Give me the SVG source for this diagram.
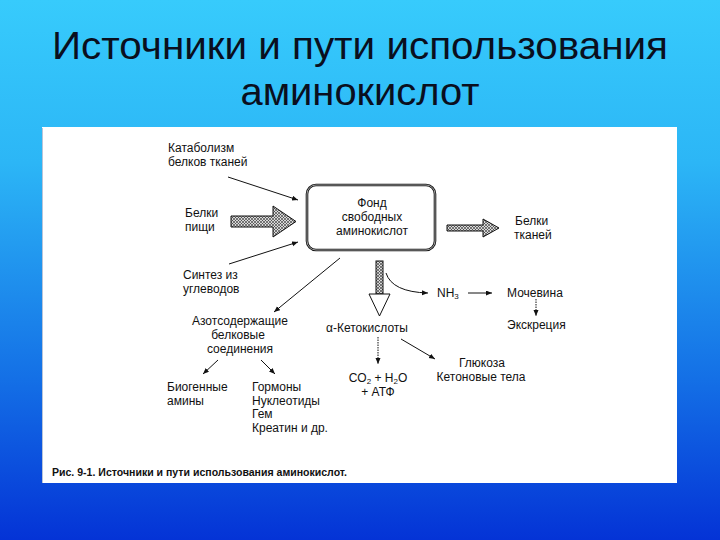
<svg xmlns="http://www.w3.org/2000/svg" width="720" height="540" viewBox="0 0 720 540">
<defs>
<linearGradient id="bg" x1="0" y1="0" x2="0" y2="1">
<stop offset="0" stop-color="#37cbfc"/>
<stop offset="0.3" stop-color="#2cb6f6"/>
<stop offset="0.7" stop-color="#1470e6"/>
<stop offset="1" stop-color="#0433d6"/>
</linearGradient>
<pattern id="hatch" width="3" height="3" patternUnits="userSpaceOnUse">
<rect width="3" height="3" fill="#d8d8d8"/>
<path d="M0,0 L3,3 M3,0 L0,3" stroke="#333" stroke-width="0.6"/>
</pattern>
<marker id="ah" markerUnits="userSpaceOnUse" markerWidth="7" markerHeight="6" refX="6" refY="2.5" orient="auto">
<path d="M0,0 L6,2.5 L0,5 Z" fill="#111"/>
</marker>
<style>
.t{font-family:"Liberation Sans",Arial,sans-serif;font-size:12px;fill:#111}
.c{text-anchor:middle}
.title{font-family:"Liberation Sans",Arial,sans-serif;font-size:38px;fill:#0a0f1e;text-anchor:middle}
.ln{stroke:#111;stroke-width:1;fill:none}
.dot{stroke:#111;stroke-width:1;fill:none;stroke-dasharray:1.5 1}
.hat{fill:url(#hatch);stroke:#111;stroke-width:1}
</style>
</defs>
<rect width="720" height="540" fill="url(#bg)"/>
<text class="title" x="360" y="59" textLength="616" lengthAdjust="spacingAndGlyphs">Источники и пути использования</text>
<text class="title" x="360" y="105" textLength="239" lengthAdjust="spacingAndGlyphs">аминокислот</text>
<rect x="42" y="127" width="635" height="356" fill="#fff"/>
<line x1="42.5" y1="128" x2="42.5" y2="483" stroke="#b8c4d8" stroke-width="1"/>

<g id="connectors">
<line class="ln" x1="228" y1="177" x2="298" y2="200" marker-end="url(#ah)"/>
<line class="ln" x1="229" y1="264" x2="298" y2="242" marker-end="url(#ah)"/>
<path class="hat" d="M231,216 L273,216 L273,206 L296,221.5 L273,237 L273,227 L231,227 Z"/>
<path class="hat" d="M447,225 L483,225 L483,219 L499,228 L483,237 L483,231 L447,231 Z"/>
<line class="ln" x1="340" y1="258" x2="274" y2="312" marker-end="url(#ah)"/>
<rect class="hat" x="376" y="261" width="7" height="33" stroke-width="0.8"/>
<path d="M369,294 L390,294 L379.5,316 Z" fill="#fff" stroke="#111" stroke-width="1"/>
<path class="ln" d="M386,273 Q392,292 428,293" marker-end="url(#ah)"/>
<line class="ln" x1="468" y1="293" x2="492" y2="293" marker-end="url(#ah)"/>
<line class="dot" x1="536" y1="299" x2="536" y2="316" marker-end="url(#ah)"/>
<line class="dot" x1="378" y1="337" x2="378" y2="364" marker-end="url(#ah)"/>
<line class="ln" x1="401" y1="339" x2="435" y2="359" marker-end="url(#ah)"/>
<line class="ln" x1="218" y1="360" x2="203" y2="374" marker-end="url(#ah)"/>
<line class="ln" x1="261" y1="360" x2="275" y2="374" marker-end="url(#ah)"/>
</g>

<g id="catabolism">
<text class="t" x="168" y="152">Катаболизм</text>
<text class="t" x="168" y="166">белков тканей</text>
</g>
<g id="food-proteins">
<text class="t" x="185" y="217">Белки</text>
<text class="t" x="185" y="231">пищи</text>
</g>
<g id="synthesis">
<text class="t" x="183" y="279">Синтез из</text>
<text class="t" x="183" y="293">углеводов</text>
</g>
<g id="pool">
<rect x="307" y="185" width="128" height="65" rx="9" fill="#fff" stroke="#111" stroke-width="2.6"/>
<rect x="307" y="185" width="128" height="65" rx="9" fill="none" stroke="#fff" stroke-width="0.6"/>
<text class="t c" x="372" y="207">Фонд</text>
<text class="t c" x="372" y="221">свободных</text>
<text class="t c" x="372" y="235">аминокислот</text>
</g>
<g id="tissue-proteins">
<text class="t" x="515" y="225">Белки</text>
<text class="t" x="514" y="239">тканей</text>
</g>
<g id="nh3">
<text class="t" x="437" y="297">NH<tspan font-size="8" dy="2">3</tspan></text>
</g>
<g id="urea">
<text class="t" x="507" y="297">Мочевина</text>
</g>
<g id="excretion">
<text class="t" x="507" y="329">Экскреция</text>
</g>
<g id="nitrogen-compounds">
<text class="t c" x="240" y="325">Азотсодержащие</text>
<text class="t c" x="238" y="339">белковые</text>
<text class="t c" x="240" y="353">соединения</text>
</g>
<g id="ketoacids">
<text class="t c" x="367" y="332">α-Кетокислоты</text>
</g>
<g id="co2">
<text class="t c" x="378" y="382">CO<tspan font-size="8" dy="2">2</tspan><tspan dy="-2"> + H</tspan><tspan font-size="8" dy="2">2</tspan><tspan dy="-2">O</tspan></text>
<text class="t c" x="378" y="396">+ АТФ</text>
</g>
<g id="glucose">
<text class="t c" x="482" y="367">Глюкоза</text>
<text class="t c" x="481" y="381">Кетоновые тела</text>
</g>
<g id="amines">
<text class="t" x="167" y="391">Биогенные</text>
<text class="t" x="167" y="405">амины</text>
</g>
<g id="hormones">
<text class="t" x="252" y="391">Гормоны</text>
<text class="t" x="252" y="405">Нуклеотиды</text>
<text class="t" x="252" y="418">Гем</text>
<text class="t" x="252" y="432">Креатин и др.</text>
</g>
<g id="caption">
<text x="52" y="476" font-family="Liberation Sans, Arial, sans-serif" font-size="10" font-weight="bold" fill="#111" textLength="295" lengthAdjust="spacingAndGlyphs">Рис. 9-1. Источники и пути использования аминокислот.</text>
</g>
</svg>
